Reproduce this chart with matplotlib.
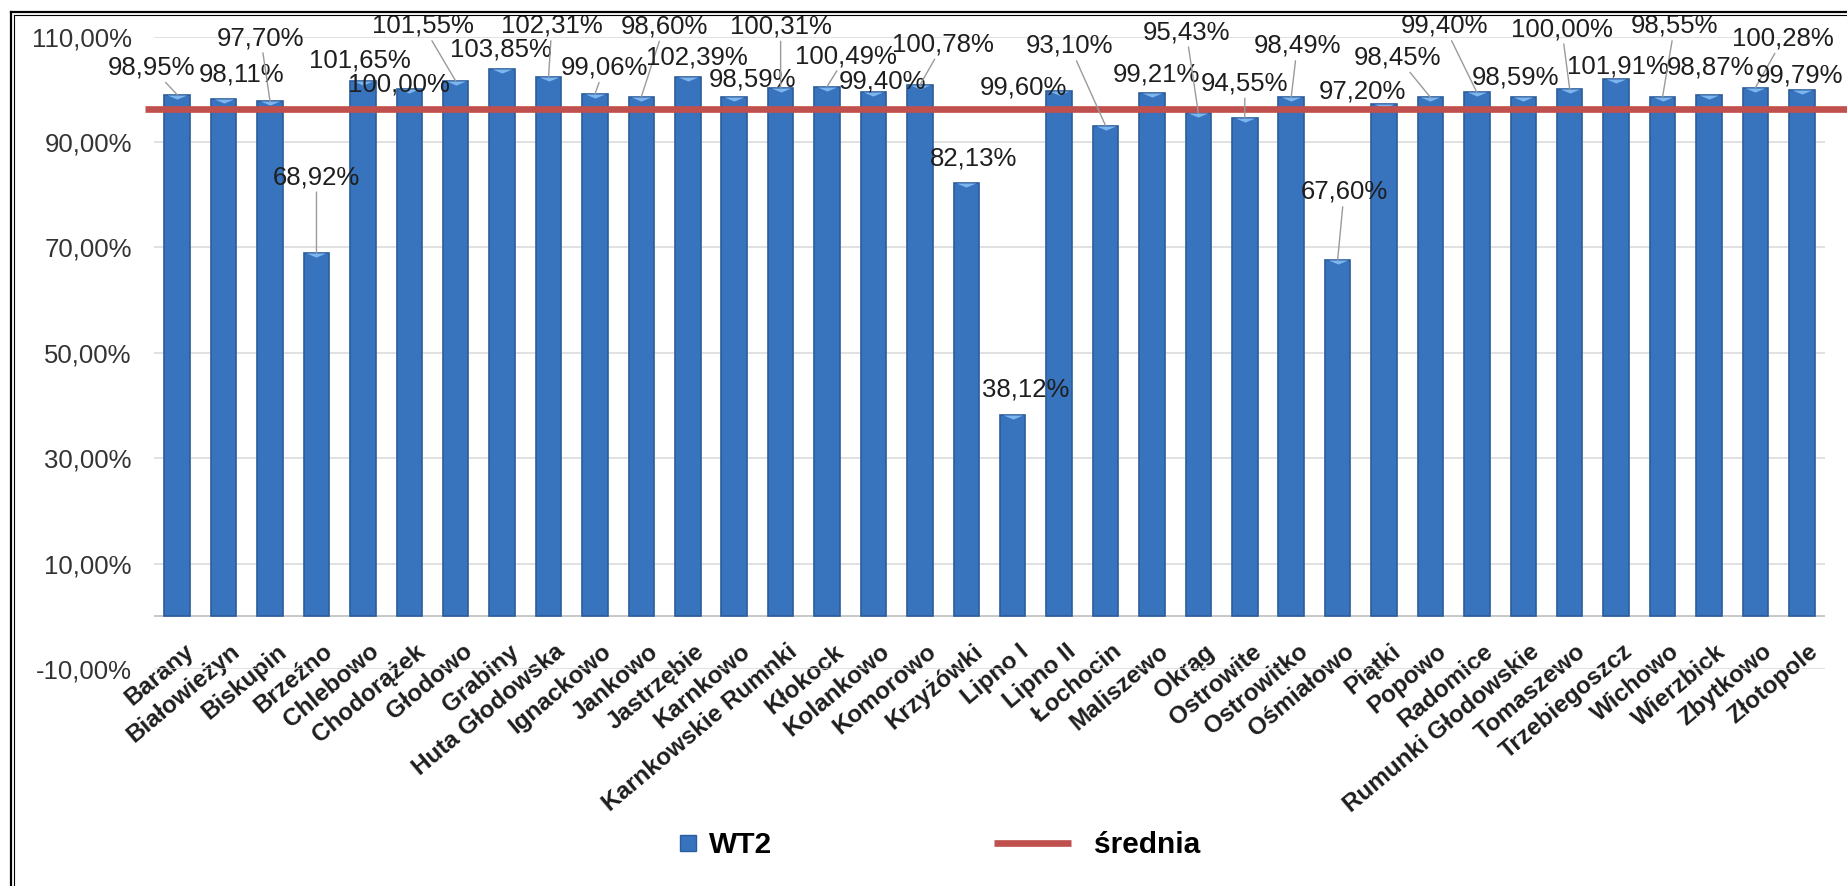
import matplotlib
matplotlib.use("Agg")
import matplotlib.pyplot as plt
import matplotlib.transforms as mtrans
from matplotlib.lines import Line2D

plt.rcParams['font.family'] = ['Liberation Sans', 'DejaVu Sans']

# ---------------- data ----------------
categories = ["Barany", "Białowieżyn", "Biskupin", "Brzeźno", "Chlebowo", "Chodorążek",
              "Głodowo", "Grabiny", "Huta Głodowska", "Ignackowo", "Jankowo", "Jastrzębie",
              "Karnkowo", "Karnkowskie Rumnki", "Kłokock", "Kolankowo", "Komorowo",
              "Krzyżówki", "Lipno I", "Lipno II", "Łochocin", "Maliszewo", "Okrąg",
              "Ostrowite", "Ostrowitko", "Ośmiałowo", "Piątki", "Popowo", "Radomice",
              "Rumunki Głodowskie", "Tomaszewo", "Trzebiegoszcz", "Wichowo", "Wierzbick",
              "Zbytkowo", "Złotopole"]
wt2 = [98.95, 98.11, 97.70, 68.92, 101.65, 100.00, 101.55, 103.85, 102.31, 99.06,
       98.60, 102.39, 98.59, 100.31, 100.49, 99.40, 100.78, 82.13, 38.12, 99.60,
       93.10, 99.21, 95.43, 94.55, 98.49, 67.60, 97.20, 98.45, 99.40, 98.59,
       100.00, 101.91, 98.55, 98.87, 100.28, 99.79]
srednia = 96.2
yticks = [-10, 10, 30, 50, 70, 90, 110]
ytick_labels = ["-10,00%", "10,00%", "30,00%", "50,00%", "70,00%", "90,00%", "110,00%"]
series_names = ["WT2", "średnia"]

# ---------------- data-label placement (style / layout only) ----------------
# (x position in category slots, y position in axis units, draw leader line)
label_layout = [(-0.55, 104.1, True), (1.38, 102.8, False), (1.80, 109.7, True),
                (3.00, 83.3, True), (3.94, 105.5, False), (4.77, 100.9, False),
                (5.30, 112.0, True), (6.98, 107.6, False), (8.07, 112.0, True),
                (9.20, 104.1, True), (10.49, 111.9, True), (11.20, 106.0, False),
                (12.40, 101.9, False), (13.00, 111.9, True), (14.41, 106.3, True),
                (15.19, 101.5, False), (16.50, 108.5, True), (17.15, 86.8, False),
                (18.27, 43.1, False), (18.23, 100.4, False), (19.23, 108.2, True),
                (21.10, 102.7, False), (21.74, 110.8, True), (23.00, 101.1, True),
                (24.13, 108.2, True), (25.14, 80.5, True), (25.54, 99.5, False),
                (26.30, 106.0, True), (27.30, 112.0, True), (28.83, 102.3, False),
                (29.83, 111.4, True), (31.03, 104.4, False), (32.26, 112.0, True),
                (33.03, 104.1, False), (34.60, 109.6, True), (34.95, 102.6, False)]

BAR_COLOR = "#3873be"
BAR_EDGE = "#2b5c9c"
RED = "#c0504d"
TXT = "#1e1e1e"

W, H = 1847, 886
fig = plt.figure(figsize=(W / 100, H / 100), dpi=100)
fig.patch.set_facecolor("white")

ax = fig.add_axes([154 / W, 1 - 669 / H, (1825 - 154) / W, (669 - 36.5) / H])
x = list(range(len(categories)))

ax.set_ylim(-10, 110)
ax.set_xlim(-0.5, len(categories) - 0.5)
ax.set_yticks(yticks)
ax.set_yticklabels(ytick_labels, fontsize=18.5, color="#333333")
ax.yaxis.grid(True, color="#d9d9d9", lw=1.1)
ax.set_axisbelow(True)
for s in ax.spines.values():
    s.set_visible(False)
ax.tick_params(axis="y", length=0, pad=16)
ax.axhline(0, color="#c4c4c4", lw=1.3, zorder=1)

# bars
ax.bar(x, wt2, width=0.55, color=BAR_COLOR, edgecolor=BAR_EDGE, linewidth=1.2, zorder=2)
# bevel highlight triangle at the top of every bar
tri = [(-1, 0), (1, 0), (0, -0.42)]
ax.plot(x, wt2, linestyle="none", marker=tri, markersize=14, color="#7db5ef",
        markeredgewidth=0, zorder=3)

# average line
avg_line = ax.axhline(srednia, xmin=-0.0055, xmax=1.02, color=RED, lw=4.8,
                      clip_on=False, zorder=4, solid_capstyle="butt")

# data labels
for i, (v, (lx, ly, leader)) in enumerate(zip(wt2, label_layout)):
    txt = f"{v:.2f}".replace(".", ",") + "%"
    kw = {}
    if leader:
        kw["arrowprops"] = dict(arrowstyle="-", color="#9a9a9a", lw=1.0,
                                shrinkA=0, shrinkB=0)
    ax.annotate(txt, xy=(i, v), xytext=(lx, ly), textcoords="data",
                ha="center", va="center", fontsize=18.5, color=TXT, zorder=6,
                annotation_clip=False, **kw)

# category labels
ax.set_xticks(x)
ax.set_xticklabels(categories, rotation=40, ha="right", va="top",
                   rotation_mode="anchor", fontsize=17.5, fontweight="bold", color=TXT)
ax.tick_params(axis="x", length=0, pad=-21)
off = mtrans.ScaledTranslation(6 / 100, 0, fig.dpi_scale_trans)
for lab in ax.get_xticklabels():
    lab.set_transform(lab.get_transform() + off)

# legends
h1 = Line2D([], [], marker="s", linestyle="none", color=BAR_COLOR, markersize=11,
            markeredgecolor=BAR_EDGE)
leg1 = fig.legend([h1], [series_names[0]], loc="center", bbox_to_anchor=(724 / W, 1 - 845 / H),
                  frameon=False, handlelength=0.8, handletextpad=0.3,
                  prop={"size": 21.5, "weight": "bold"})
h2 = Line2D([], [], color=RED, lw=4.8, solid_capstyle="butt")
leg2 = fig.legend([h2], [series_names[1]], loc="center", bbox_to_anchor=(1097 / W, 1 - 845 / H),
                  frameon=False, handlelength=2.6, handletextpad=0.75,
                  prop={"size": 21.5, "weight": "bold"})

# double frame (left and top visible)
fig.add_artist(Line2D([11 / W, 11 / W], [0, 1 - 12 / H], color="black", lw=1.6,
                      transform=fig.transFigure))
fig.add_artist(Line2D([11 / W, 1], [1 - 12 / H, 1 - 12 / H], color="black", lw=1.6,
                      transform=fig.transFigure))
fig.add_artist(Line2D([14 / W, 14 / W], [0, 1 - 15 / H], color="black", lw=0.8,
                      transform=fig.transFigure))
fig.add_artist(Line2D([14 / W, 1], [1 - 15 / H, 1 - 15 / H], color="black", lw=0.8,
                      transform=fig.transFigure))

fig.savefig("out.png", dpi=100)
